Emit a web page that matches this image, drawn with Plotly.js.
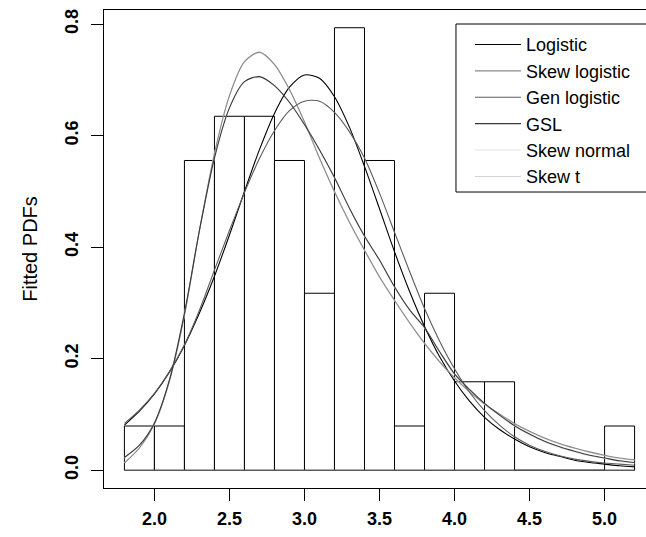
<!DOCTYPE html>
<html>
<head>
<meta charset="utf-8">
<script src="https://cdn.plot.ly/plotly-3.0.1.min.js"></script>
<style>
html,body{margin:0;padding:0;overflow:hidden;background:#fff;}
#chart{width:656px;height:537px;}
</style>
</head>
<body>
<div id="chart"></div>
<script>
// Histogram bins (left edges, width 0.2) and densities
var binStart = [1.8, 2.0, 2.2, 2.4, 2.6, 2.8, 3.0, 3.2, 3.4, 3.6, 3.8, 4.0, 4.2, 4.4, 4.6, 4.8, 5.0];
var binDensity = [0.0794, 0.0794, 0.5556, 0.6349, 0.6349, 0.5556, 0.3175, 0.7937, 0.5556, 0.0794, 0.3175, 0.1587, 0.1587, 0, 0, 0, 0.0794];
var binWidth = 0.2;

// Evaluation grid for fitted curves
var xGrid = [1.8, 1.9, 2.0, 2.1, 2.2, 2.3, 2.4, 2.5, 2.6, 2.7, 2.8, 2.9, 3.0, 3.1, 3.2, 3.3, 3.4, 3.5, 3.6, 3.7, 3.8, 3.9, 4.0, 4.1, 4.2, 4.3, 4.4, 4.5, 4.6, 4.7, 4.8, 4.9, 5.0, 5.1, 5.2];

var logistic = [0.081, 0.106, 0.137, 0.176, 0.224, 0.282, 0.348, 0.422, 0.500, 0.575, 0.640, 0.687, 0.709, 0.703, 0.670, 0.615, 0.545, 0.469, 0.392, 0.321, 0.258, 0.204, 0.160, 0.124, 0.095, 0.073, 0.056, 0.042, 0.032, 0.025, 0.018, 0.014, 0.011, 0.008, 0.006];
var skewLogistic = [0.013, 0.040, 0.083, 0.160, 0.278, 0.430, 0.568, 0.672, 0.733, 0.750, 0.728, 0.683, 0.625, 0.560, 0.500, 0.445, 0.395, 0.347, 0.305, 0.265, 0.228, 0.195, 0.166, 0.141, 0.119, 0.101, 0.084, 0.070, 0.058, 0.048, 0.040, 0.033, 0.027, 0.022, 0.019];
var genLogistic = [0.084, 0.108, 0.138, 0.177, 0.225, 0.287, 0.359, 0.430, 0.498, 0.559, 0.609, 0.645, 0.662, 0.662, 0.642, 0.607, 0.560, 0.497, 0.427, 0.357, 0.290, 0.232, 0.182, 0.140, 0.107, 0.081, 0.060, 0.045, 0.034, 0.026, 0.020, 0.016, 0.013, 0.011, 0.009];
var gsl = [0.023, 0.045, 0.085, 0.162, 0.282, 0.430, 0.560, 0.650, 0.697, 0.706, 0.690, 0.660, 0.620, 0.575, 0.525, 0.470, 0.420, 0.377, 0.329, 0.288, 0.256, 0.213, 0.173, 0.145, 0.120, 0.099, 0.080, 0.065, 0.052, 0.042, 0.034, 0.027, 0.022, 0.017, 0.014];
var skewNormal = [0.022, 0.045, 0.085, 0.162, 0.282, 0.430, 0.560, 0.650, 0.697, 0.705, 0.689, 0.659, 0.619, 0.574, 0.524, 0.469, 0.419, 0.376, 0.328, 0.287, 0.255, 0.212, 0.172, 0.144, 0.119, 0.098, 0.079, 0.064, 0.051, 0.041, 0.033, 0.026, 0.021, 0.016, 0.013];
var skewT = [0.014, 0.040, 0.083, 0.160, 0.278, 0.430, 0.568, 0.672, 0.732, 0.749, 0.727, 0.682, 0.624, 0.559, 0.499, 0.444, 0.394, 0.346, 0.304, 0.264, 0.227, 0.194, 0.165, 0.140, 0.118, 0.100, 0.083, 0.069, 0.057, 0.047, 0.039, 0.032, 0.026, 0.021, 0.018];

var xTicks = [2.0, 2.5, 3.0, 3.5, 4.0, 4.5, 5.0];
var xTickText = ["2.0", "2.5", "3.0", "3.5", "4.0", "4.5", "5.0"];
var yTicks = [0, 0.2, 0.4, 0.6, 0.8];
var yTickText = ["0.0", "0.2", "0.4", "0.6", "0.8"];

var FONT = "Liberation Sans, Arial, Helvetica, sans-serif";

function curve(name, y, color, rank) {
  return {
    type: "scatter", mode: "lines", name: name, x: xGrid, y: y,
    line: {color: color, width: 1.1, shape: "spline", smoothing: 0.8},
    legendrank: rank, hoverinfo: "skip"
  };
}

var traces = [
  {
    type: "bar", x: binStart, y: binDensity, width: binWidth, offset: 0,
    marker: {color: "rgba(255,255,255,1)", line: {color: "#000", width: 1}},
    showlegend: false, hoverinfo: "skip"
  },
  {
    type: "scatter", mode: "lines",
    x: [binStart[0], binStart[binStart.length - 1] + binWidth], y: [0, 0],
    line: {color: "#666", width: 1}, showlegend: false, hoverinfo: "skip"
  },
  curve("Skew normal", skewNormal, "#e2e2e2", 5),
  curve("Skew t", skewT, "#d4d4d4", 6),
  curve("Logistic", logistic, "#000000", 1),
  curve("Skew logistic", skewLogistic, "#8a8a8a", 2),
  curve("Gen logistic", genLogistic, "#5c5c5c", 3),
  curve("GSL", gsl, "#3a3a3a", 4)
];

var layout = {
  width: 656, height: 537,
  margin: {l: 104, r: 1, t: 10, b: 49, pad: 0},
  paper_bgcolor: "#fff", plot_bgcolor: "#fff",
  font: {family: FONT, color: "#000", size: 18},
  showlegend: true,
  legend: {
    x: 0.6642, y: 0.9660, xanchor: "left", yanchor: "top",
    bgcolor: "rgba(255,255,255,0)", borderwidth: 0,
    font: {family: FONT, size: 18, color: "#000"},
    itemwidth: 46, tracegroupgap: 0, traceorder: "normal"
  },
  // legend frame (extends past the right edge like the original)
  shapes: [{
    type: "rect", xref: "paper", yref: "paper",
    x0: 0.6388, x1: 1.3, y0: 0.6192, y1: 0.9707,
    line: {color: "#000", width: 1}, fillcolor: "#fff", layer: "above"
  }],
  xaxis: {
    range: [1.664, 5.336], showgrid: false, zeroline: false,
    showline: true, mirror: true, linecolor: "#000", linewidth: 1,
    ticks: "outside", ticklen: 12, tickwidth: 1, tickcolor: "#000",
    tickmode: "array", tickvals: xTicks, ticktext: xTickText, ticklabelstandoff: 2,
    tickfont: {family: FONT, size: 18, weight: "bold", color: "#000"}
  },
  yaxis: {
    range: [-0.0318, 0.8255], showgrid: false, zeroline: false,
    showline: true, mirror: true, linecolor: "#000", linewidth: 1,
    ticks: "outside", ticklen: 12, tickwidth: 1, tickcolor: "#000",
    tickmode: "array", tickvals: yTicks, ticktext: yTickText, tickangle: -90,
    ticklabelstandoff: 6,
    tickfont: {family: FONT, size: 18, weight: "bold", color: "#000"},
    title: {text: "Fitted PDFs", font: {family: FONT, size: 20, color: "#000"}, standoff: 18}
  }
};

Plotly.newPlot("chart", traces, layout, {displayModeBar: false, staticPlot: true});
</script>
</body>
</html>
